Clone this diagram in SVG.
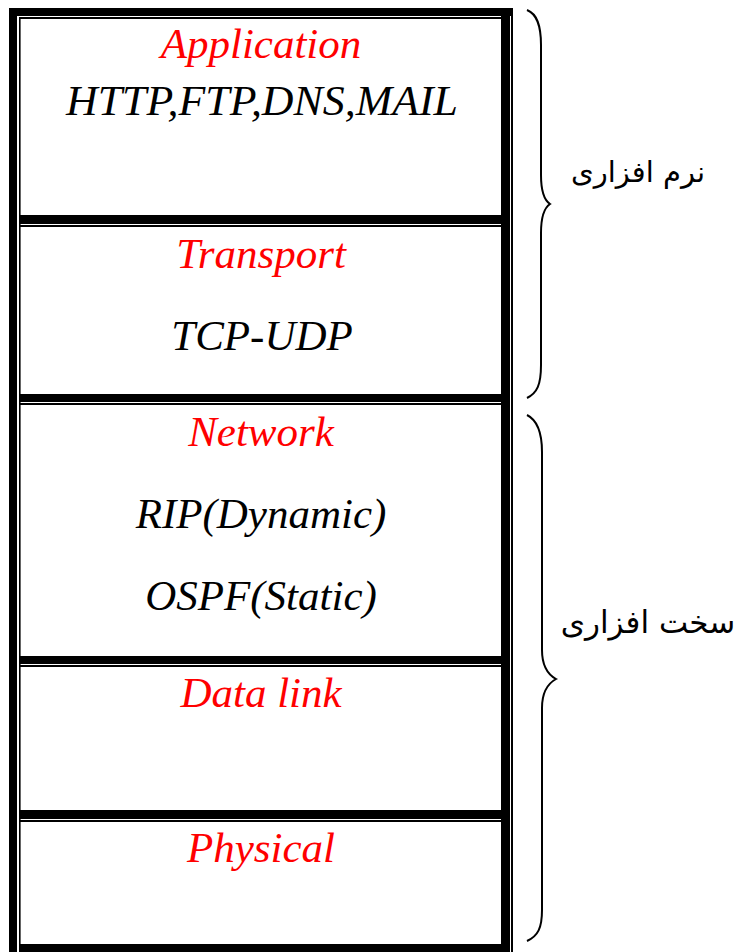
<svg xmlns="http://www.w3.org/2000/svg" width="750" height="952" viewBox="0 0 750 952">
<style>
.b{fill:#000}
.t{font-family:"Liberation Serif","Times New Roman",serif;font-style:italic;font-size:43px;text-anchor:middle}
.r{fill:#ff0000}
.k{fill:#000}
.fa{font-family:"DejaVu Sans",sans-serif;font-size:29px;text-anchor:middle;fill:#000}
.br{fill:none;stroke:#000;stroke-width:2}
</style>
<rect width="750" height="952" fill="#fff"/>
<g id="frame">
<rect class="b" x="9" y="8" width="8" height="944"/>
<rect class="b" x="9" y="8" width="504" height="8"/>
<rect class="b" x="501" y="8" width="9" height="944"/>
<rect class="b" x="511" y="8" width="2" height="944"/>
<rect class="b" x="19" y="17" width="1.6" height="935"/>
<rect class="b" x="19" y="17" width="482" height="2"/>
</g>
<g id="application">
<rect class="b" x="19" y="215" width="491" height="9"/>
<text class="t r" x="261" y="58">Application</text>
<text class="t k" x="262" y="115" textLength="392" lengthAdjust="spacingAndGlyphs">HTTP,FTP,DNS,MAIL</text>
</g>
<g id="transport">
<rect class="b" x="19" y="225" width="491" height="2"/>
<rect class="b" x="19" y="394" width="491" height="8"/>
<text class="t r" x="261" y="268">Transport</text>
<text class="t k" x="262" y="350">TCP-UDP</text>
</g>
<g id="network">
<rect class="b" x="19" y="403" width="491" height="2"/>
<rect class="b" x="19" y="656" width="491" height="8"/>
<text class="t r" x="261" y="446">Network</text>
<text class="t k" x="261" y="528">RIP(Dynamic)</text>
<text class="t k" x="261" y="610">OSPF(Static)</text>
</g>
<g id="datalink">
<rect class="b" x="19" y="665" width="491" height="2"/>
<rect class="b" x="19" y="810" width="491" height="9"/>
<text class="t r" x="261" y="707">Data link</text>
</g>
<g id="physical">
<rect class="b" x="19" y="820" width="491" height="2"/>
<rect class="b" x="19" y="944" width="491" height="8"/>
<text class="t r" x="261" y="862">Physical</text>
</g>
<g id="connectors">
<path class="br" d="M527,10 C537,14 541,25 541,45 L541,175 C541,192 544,200 550,204 C544,208 541,216 541,233 L541,365 C541,385 537,393 527,398"/>
<path class="br" d="M527,415 C537,420 542,432 542,452 L542,650 C542,666 547,674 556,679 C547,684 542,692 542,708 L542,910 C542,928 538,936 527,941"/>
</g>
<g id="software">
<text class="fa" x="638" y="182">نرم افزاری</text>
</g>
<g id="hardware">
<text class="fa" x="648" y="633" style="font-size:31px">سخت افزاری</text>
</g>
</svg>
